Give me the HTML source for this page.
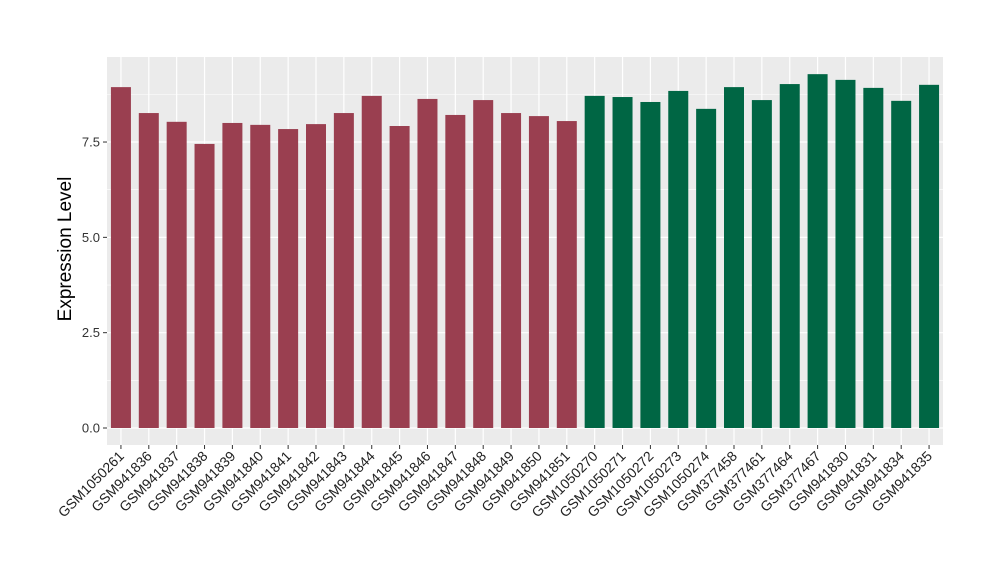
<!DOCTYPE html>
<html><head><meta charset="utf-8"><style>
body{margin:0;background:#fff;}
svg text{font-family:"Liberation Sans",sans-serif;}
</style></head><body>
<svg id="chart" width="1000" height="580"></svg>
<script>
const categories=["GSM1050261","GSM941836","GSM941837","GSM941838","GSM941839","GSM941840","GSM941841","GSM941842","GSM941843","GSM941844","GSM941845","GSM941846","GSM941847","GSM941848","GSM941849","GSM941850","GSM941851","GSM1050270","GSM1050271","GSM1050272","GSM1050273","GSM1050274","GSM377458","GSM377461","GSM377464","GSM377467","GSM941830","GSM941831","GSM941834","GSM941835"];
const values=[8.94,8.26,8.03,7.45,8.0,7.95,7.84,7.97,8.26,8.71,7.92,8.63,8.21,8.60,8.26,8.18,8.05,8.71,8.68,8.55,8.84,8.37,8.94,8.60,9.02,9.28,9.13,8.92,8.58,9.0];
const groups=[0,0,0,0,0,0,0,0,0,0,0,0,0,0,0,0,0,1,1,1,1,1,1,1,1,1,1,1,1,1];
const yTicks=[0,2.5,5,7.5];
const yTickLabels=["0.0","2.5","5.0","7.5"];
const colors=["#9a3f50","#006644"];
const NS="http://www.w3.org/2000/svg";
const svg=document.getElementById('chart');
const L=107,R=943,T=57,B=445;
const y=v=>428-v*38.13;
const step=(R-L)/categories.length;
const x=i=>L+step*(i+0.5);
function mk(t,a,p){const e=document.createElementNS(NS,t);for(const k in a)e.setAttribute(k,a[k]);(p||svg).appendChild(e);return e;}
const bg=mk('rect',{x:L,y:T,width:R-L,height:B-T,fill:'#ebebeb'});


for(let i=0;i<yTicks.length-1;i++){const m=(yTicks[i]+yTicks[i+1])/2;mk('line',{x1:L,x2:R,y1:y(m),y2:y(m),stroke:'#fff','stroke-width':0.6});}
mk('line',{x1:L,x2:R,y1:y(8.75),y2:y(8.75),stroke:'#fff','stroke-width':0.6});
yTicks.forEach((t,i)=>{
 const g=mk('line',{x1:L,x2:R,y1:y(t),y2:y(t),stroke:'#fff','stroke-width':1.2});
 
 
 mk('line',{x1:L-4,x2:L,y1:y(t),y2:y(t),stroke:'#333'});
 const tx=mk('text',{x:L-7,y:y(t)+4.5,'text-anchor':'end','font-size':13,fill:'#333'});
 tx.textContent=yTickLabels[i];
 
 
});
categories.forEach((c,i)=>{
 mk('line',{x1:x(i),x2:x(i),y1:T,y2:B,stroke:'#fff','stroke-width':1.2});
});
categories.forEach((c,i)=>{
 const r=mk('rect',{x:x(i)-10,y:y(values[i]),width:20,height:y(0)-y(values[i]),fill:colors[groups[i]]});
 
 
 mk('line',{x1:x(i),x2:x(i),y1:B,y2:B+4,stroke:'#333'});
 const t=mk('text',{x:x(i)+4,y:B+12,'text-anchor':'end','font-size':14,fill:'#222',transform:`rotate(-45 ${x(i)+4} ${B+12})`});
 t.textContent=c;
 
 
});
const yt=mk('text',{x:71,y:(T+B)/2-2,'text-anchor':'middle','font-size':19,fill:'#000',transform:`rotate(-90 71 ${(T+B)/2-2})`});
yt.textContent='Expression Level';


</script>
</body></html>
